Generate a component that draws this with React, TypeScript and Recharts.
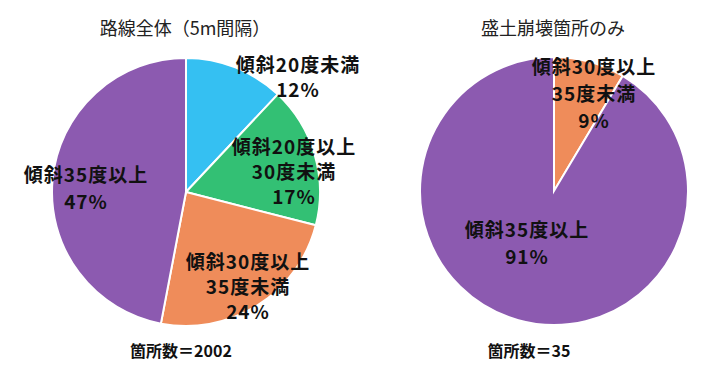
import React from "react";
import { PieChart, Pie, Cell } from "recharts";

const leftNames = ["傾斜20度未満", "傾斜20度以上\n30度未満", "傾斜30度以上\n35度未満", "傾斜35度以上"];
const leftValues = [12, 17, 24, 47];
const leftColors = ["#35c0f2", "#33c074", "#ef8c5a", "#8c5ab0"];

const rightNames = ["傾斜30度以上\n35度未満", "傾斜35度以上"];
const rightValues = [3, 32];
const rightPercents = [9, 91];
const rightColors = ["#ef8c5a", "#8c5ab0"];

const leftTitle = "路線全体（5m間隔）";
const rightTitle = "盛土崩壊箇所のみ";
const leftCount = "箇所数＝2002";
const rightCount = "箇所数＝35";

const leftData = leftNames.map((name, i) => ({ name, value: leftValues[i], pct: leftValues[i] }));
const rightData = rightNames.map((name, i) => ({ name, value: rightValues[i], pct: rightPercents[i] }));

// label placement offsets (relative to pie centre) for first line, and line spacing
const leftLabelPos = [
  [112, -129, 25],
  [108, -47, 25],
  [62, 68, 25],
  [-100, -19, 27],
];
const rightLabelPos = [
  [40, -126, 27],
  [-27, 37, 27],
];

const labelFont = "'Noto Sans CJK JP', sans-serif";

const makeLabel = (pos: number[][]) => (props: any) => {
  const { cx, cy, index, payload } = props;
  const p = pos[index];
  const lines: string[] = [...String(payload.name).split("\n"), `${payload.pct}%`];
  return (
    <g key={`lbl-${index}`}>
      {lines.map((l, i) => (
        <text
          key={i}
          x={cx + p[0]}
          y={cy + p[1] + i * p[2]}
          textAnchor="middle"
          dominantBaseline="central"
          fontFamily={labelFont}
          fontSize={19}
          letterSpacing={1}
          fontWeight={700}
          fill="#111"
        >
          {l}
        </text>
      ))}
    </g>
  );
};

export default function App() {
  return (
    <div style={{ width: 719, height: 371, position: "relative", margin: -8 }}>
      <PieChart width={719} height={371} margin={{ top: 0, right: 0, bottom: 0, left: 0 }}>
        <text x={185} y={27} textAnchor="middle" dominantBaseline="central" fontFamily={labelFont} fontSize={18} fill="#222">
          {leftTitle}
        </text>
        <text x={553} y={27} textAnchor="middle" dominantBaseline="central" fontFamily={labelFont} fontSize={18} fill="#222">
          {rightTitle}
        </text>
        <Pie
          data={leftData}
          dataKey="value"
          cx={186}
          cy={192}
          outerRadius={134}
          startAngle={90}
          endAngle={-270}
          stroke="#fff"
          strokeWidth={2}
          isAnimationActive={false}
          labelLine={false}
          label={makeLabel(leftLabelPos)}
        >
          {leftData.map((d, i) => (
            <Cell key={i} fill={leftColors[i]} />
          ))}
        </Pie>
        <Pie
          data={rightData}
          dataKey="value"
          cx={554}
          cy={191}
          outerRadius={134}
          startAngle={90}
          endAngle={-270}
          stroke="#fff"
          strokeWidth={2}
          isAnimationActive={false}
          labelLine={false}
          label={makeLabel(rightLabelPos)}
        >
          {rightData.map((d, i) => (
            <Cell key={i} fill={rightColors[i]} />
          ))}
        </Pie>
        <text x={181} y={350} textAnchor="middle" dominantBaseline="central" fontFamily={labelFont} fontSize={16} fontWeight={700} fill="#111">
          {leftCount}
        </text>
        <text x={529} y={350} textAnchor="middle" dominantBaseline="central" fontFamily={labelFont} fontSize={16} fontWeight={700} fill="#111">
          {rightCount}
        </text>
      </PieChart>
    </div>
  );
}
